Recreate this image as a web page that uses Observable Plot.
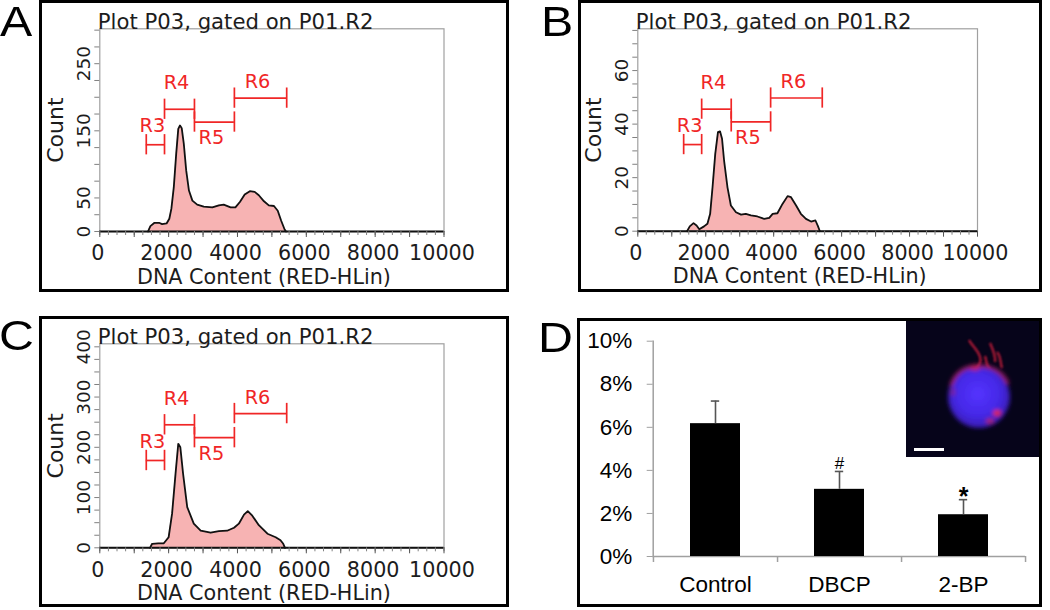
<!DOCTYPE html>
<html><head><meta charset="utf-8">
<script src="https://cdn.jsdelivr.net/npm/d3@7"></script>
<script src="https://cdn.jsdelivr.net/npm/@observablehq/plot@0.6"></script>
<style>
body{margin:0;background:#fff;}
#root{position:relative;width:1050px;height:610px;overflow:hidden;background:#fff;}
#root svg{position:absolute;left:0;top:0;}
.box{position:absolute;border:3px solid #000;box-sizing:border-box;z-index:5;}
.lbl{position:absolute;font-family:"Liberation Sans",Arial,sans-serif;font-size:42px;line-height:1;color:#000;transform:scaleX(1.15);transform-origin:0 0;z-index:6;}
</style></head><body><div id="root"></div>
<script>
// ---------- data ----------
const plotTitle = "Plot P03, gated on P01.R2";
const xTitle = "DNA Content (RED-HLin)";
const yTitle = "Count";
const xTickLabels = [0, 2000, 4000, 6000, 8000, 10000];

const dnaA   = [1400,1470,1590,1720,1810,1940,2020,2080,2150,2220,2280,2330,2380,2440,2510,2590,2690,2830,3020,3270,3460,3600,3800,3940,4070,4210,4360,4500,4620,4770,4910,5060,5170,5270,5370,5410];
const countA = [0,8,13,13,11,12,19,34,66,116,153,158,154,131,91,61,46,40,37,36,39,40,36,36,44,55,60,59,54,45,39,38,31,16,3,0];
const yLabelsA = [0, 50, 150, 250];

const dnaB   = [1450,1530,1640,1730,1810,1950,2050,2130,2200,2280,2360,2420,2480,2540,2640,2740,2890,3040,3180,3330,3520,3720,3870,3970,4110,4260,4410,4510,4660,4800,4950,5100,5230,5300,5360];
const countB = [0,1.8,3,2.1,0.7,1.8,2.8,6.5,16.4,28.9,37,37.3,34.5,26.4,16.4,9.6,7.1,6.2,6.5,5.9,5.5,4.6,5,6.5,6.7,10.2,13.1,12.7,9.6,6.5,4.6,3.6,4,2,0];
const yLabelsB = [0, 20, 40, 60];

const dnaC   = [1460,1520,1700,1860,2000,2100,2200,2280,2340,2420,2540,2730,2930,3220,3460,3700,3900,4040,4190,4300,4430,4620,4870,5110,5250,5330,5380];
const countC = [0,8,9,9,21,68,147,207,200,147,81,48,34,30,33,34,40,48,66,73,64,45,28,21,15,8,0];
const yLabelsC = [0, 100, 200, 300, 400];

const gateNames = ["R3", "R4", "R5", "R6"];
const gateStart = [1350, 1880, 2750, 3910];
const gateEnd   = [1880, 2750, 3910, 5430];

const groups = ["Control", "DBCP", "2-BP"];
const apoptosis = [0.0617, 0.0312, 0.0194];
const sem = [0.0105, 0.0083, 0.0070];
const sigMarks = ["", "#", "*"];
const pctTicks = [0, 0.02, 0.04, 0.06, 0.08, 0.10];

// ---------- layout ----------
const W = 1050, H = 610;
const root = document.getElementById("root");
const RED = "#f02626";
const gateLevel = [0.428, 0.603, 0.54, 0.658];   // fraction of plot height
const gateLabelDy = [-19, -26, 16, -16];

function histogram(dna, count, ymax, yStep, yLabels, fr) {
  const hist = dna.map((x, i) => ({x, c: count[i]}));
  const gates = gateNames.map((n, i) => ({n, x1: gateStart[i], x2: gateEnd[i], y: gateLevel[i] * ymax, dy: gateLabelDy[i]}));
  const half = 0.05 * ymax;
  const ends = gates.flatMap(g => [{x: g.x1, y1: g.y - half, y2: g.y + half}, {x: g.x2, y1: g.y - half, y2: g.y + half}]);
  return Plot.plot({
    width: W, height: H,
    marginLeft: fr.l, marginRight: W - fr.r, marginTop: fr.t, marginBottom: H - fr.b,
    x: {domain: [0, 10000], label: null},
    y: {domain: [0, ymax], label: null},
    style: {fontFamily: "'DejaVu Sans', Verdana, sans-serif", fontSize: "20px", color: "#1c1c1c", background: "transparent", overflow: "visible"},
    marks: [
      Plot.areaY(hist, {x: "x", y: "c", fill: "#f7b3b3"}),
      Plot.frame({stroke: "#a0a0a0", strokeWidth: 1.2}),
      Plot.lineY(hist, {x: "x", y: "c", stroke: "#111", strokeWidth: 1.8}),
      Plot.ruleY([0], {stroke: "#111", strokeWidth: 2}),
      Plot.axisX(d3.range(0, 10001, 250), {tickSize: 4, tickFormat: () => "", stroke: "#808080", label: null}),
      Plot.axisX(d3.range(0, 10001, 1000), {tickSize: 6, tickFormat: () => "", stroke: "#555", label: null}),
      Plot.axisX(xTickLabels, {tickSize: 0, tickPadding: 14, tickFormat: d => String(d), fontSize: 20.7, dx: -2, label: null}),
      Plot.axisY(d3.range(0, ymax + 0.001, yStep), {tickSize: 5, tickFormat: () => "", stroke: "#808080", label: null}),
      Plot.text(yLabels, {frameAnchor: "left", y: d => d, text: d => String(d), rotate: -90, textAnchor: "middle", lineAnchor: "middle", dx: -16, fontSize: 18.5}),
      Plot.text([yTitle], {frameAnchor: "left", rotate: -90, textAnchor: "middle", lineAnchor: "middle", dx: -44, fontSize: 22}),
      Plot.text([xTitle], {frameAnchor: "bottom", dy: 52, dx: -8, fontSize: 20.7}),
      Plot.text([plotTitle], {frameAnchor: "top-left", textAnchor: "start", lineAnchor: "bottom", dx: -2, dy: 0, fontSize: 21.2}),
      Plot.ruleY(gates, {x1: "x1", x2: "x2", y: "y", stroke: RED, strokeWidth: 1.7}),
      Plot.ruleX(ends, {x: "x", y1: "y1", y2: "y2", stroke: RED, strokeWidth: 1.7}),
      ...gates.map(g => Plot.text([g], {x: d => (d.x1 + d.x2) / 2, y: "y", text: "n", dy: g.dy, dx: -3, fill: RED, fontSize: 19.3}))
    ]
  });
}

const panels = [
  histogram(dnaA, countA, 302, 25, yLabelsA, {l: 99.3, r: 443.5, t: 28.3, b: 231}),
  histogram(dnaB, countB, 75.6, 5, yLabelsB, {l: 637.3, r: 977, t: 28.3, b: 230.7}),
  histogram(dnaC, countC, 406, 25, yLabelsC, {l: 99.3, r: 443.5, t: 343.3, b: 547.3})
];

// bar chart (panel D)
const bars = groups.map((g, i) => ({g, v: apoptosis[i], e: sem[i], s: sigMarks[i]}));
const dL = 652.7, dR = 1025, dT = 340.7, dB = 556;
const pIn = 0.6, pOut = 0.3;
const step = (dR - dL) / (groups.length - pIn + 2 * pOut);
const bw = step * (1 - pIn);
const capW = 8;
const barChart = Plot.plot({
  width: W, height: H,
  marginLeft: dL, marginRight: W - dR, marginTop: dT, marginBottom: H - dB,
  x: {domain: groups, paddingInner: pIn, paddingOuter: pOut, label: null},
  y: {domain: [0, 0.1], label: null},
  style: {fontFamily: "'Liberation Sans', Arial, sans-serif", fontSize: "22px", color: "#000", background: "transparent", overflow: "visible"},
  marks: [
    Plot.frame({anchor: "left", stroke: "#a0a0a0", strokeWidth: 1.5}),
    Plot.ruleY([0], {stroke: "#a0a0a0", strokeWidth: 1.5}),
    Plot.ruleX(groups, {x: d => d, y1: 0, y2: 0, insetBottom: -6, dx: step / 2, stroke: "#a0a0a0", strokeWidth: 1.5}),
    Plot.ruleX([groups[0]], {x: d => d, y1: 0, y2: 0, insetBottom: -6, dx: -step / 2, stroke: "#a0a0a0", strokeWidth: 1.5}),
    Plot.axisY(pctTicks, {tickSize: 6, tickPadding: 15, tickFormat: d => Math.round(d * 100) + "%", fontSize: 22.5, stroke: "#a0a0a0", label: null}),
    Plot.axisX(groups, {tickSize: 0, tickPadding: 20, fontSize: 22.5, label: null}),
    Plot.barY(bars, {x: "g", y: "v", fill: "#000"}),
    Plot.ruleX(bars, {x: "g", y1: "v", y2: d => d.v + d.e, stroke: "#555", strokeWidth: 1.6}),
    Plot.tickY(bars, {x: "g", y: d => d.v + d.e, stroke: "#555", strokeWidth: 1.6, insetLeft: (bw - capW) / 2, insetRight: (bw - capW) / 2}),
    Plot.text(bars.filter(d => d.s === "#"), {x: "g", y: d => d.v + d.e, text: "s", dy: -8, fontSize: 17}),
    Plot.text(bars.filter(d => d.s === "*"), {x: "g", y: d => d.v + d.e, text: "s", dy: -3, fontSize: 25, fontWeight: "bold"})
  ]
});

[...panels, barChart].forEach(p => root.appendChild(p));

// micrograph inset (decorative image in panel D)
const ns = "http://www.w3.org/2000/svg";
const inset = document.createElementNS(ns, "svg");
inset.setAttribute("width", W); inset.setAttribute("height", H);
inset.innerHTML = `
<defs>
  <radialGradient id="nuc" cx="0.48" cy="0.45" r="0.55">
    <stop offset="0" stop-color="#5533ff"/>
    <stop offset="0.65" stop-color="#4428e6"/>
    <stop offset="1" stop-color="#3a1cb0"/>
  </radialGradient>
  <filter id="bl" x="-50%" y="-50%" width="200%" height="200%"><feGaussianBlur stdDeviation="2.2"/></filter>
  <filter id="bl2" x="-50%" y="-50%" width="200%" height="200%"><feGaussianBlur stdDeviation="1.3"/></filter>
</defs>
<rect x="906" y="318" width="136" height="139" fill="#06041a"/>
<g filter="url(#bl2)" fill="none" stroke="#c81e3a" stroke-width="2.4" opacity="0.85">
  <path d="M969 340 C 972 346, 978 350, 980 357 C 982 362, 978 367, 975 370"/>
  <path d="M990 343 C 993 350, 996 356, 995 362"/>
  <path d="M997 352 C 1001 356, 1000 362, 1002 368"/>
  <path d="M985 356 C 987 362, 986 366, 990 369"/>
</g>
<g filter="url(#bl)">
  <circle cx="979" cy="397" r="31" fill="url(#nuc)"/>
  <path d="M951 386 C 955 372, 966 366, 979 366 C 992 366, 1003 372, 1008 384" fill="none" stroke="#b02068" stroke-width="4" opacity="0.75"/>
  <ellipse cx="997" cy="413" rx="4" ry="3" fill="#e02840"/>
  <ellipse cx="990" cy="421" rx="4" ry="2.5" fill="#c82050" opacity="0.8"/>
  <ellipse cx="953" cy="392" rx="2.5" ry="4" fill="#a02070" opacity="0.6"/>
  <ellipse cx="975" cy="368" rx="5" ry="3" fill="#d02048" opacity="0.7"/>
</g>
<rect x="914" y="448" width="30" height="3" fill="#ffffff"/>
`;
root.appendChild(inset);

// panel boxes and letters
const boxes = [[39, 0, 470, 292], [578, 0, 464, 292], [39, 316, 470, 291], [577, 318, 465, 289]];
boxes.forEach(([l, t, w, h]) => {
  const d = document.createElement("div");
  d.className = "box";
  Object.assign(d.style, {left: l + "px", top: t + "px", width: w + "px", height: h + "px"});
  root.appendChild(d);
});
const letters = [["A", 0, 1], ["B", 541, 1], ["C", -1, 314.5], ["D", 538, 316.5]];
letters.forEach(([s, l, t]) => {
  const d = document.createElement("div");
  d.className = "lbl";
  d.textContent = s;
  Object.assign(d.style, {left: l + "px", top: t + "px"});
  root.appendChild(d);
});
</script></body></html>
